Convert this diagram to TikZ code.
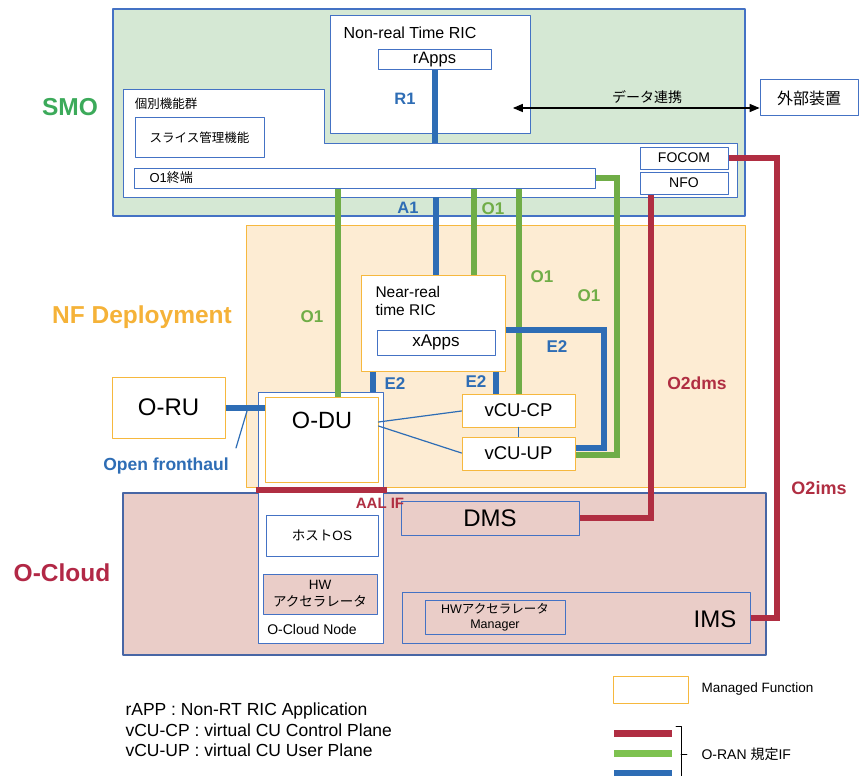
\documentclass[tikz,border=0pt]{standalone}
\usepackage{fontspec}
\setmainfont{Liberation Sans}
\newfontfamily\jp{Noto Sans CJK JP}
\usepackage{xcolor}
\usepackage{tikz}
\usetikzlibrary{arrows}
\definecolor{cSmo}{RGB}{213,232,212}
\definecolor{cNf}{RGB}{253,236,211}
\definecolor{cCloud}{RGB}{234,205,200}
\definecolor{cBox}{RGB}{68,114,196}
\definecolor{cCloudBd}{RGB}{72,102,165}
\definecolor{cMf}{RGB}{246,184,62}
\definecolor{cRed}{RGB}{176,46,66}
\definecolor{cGreen}{RGB}{112,173,71}
\definecolor{cGreenKey}{RGB}{126,194,80}
\definecolor{cBlue}{RGB}{46,109,181}
\definecolor{cSmoTxt}{RGB}{60,170,90}
\definecolor{cNfTxt}{RGB}{245,178,56}
\definecolor{cCloudTxt}{RGB}{178,40,70}
\newcommand{\fs}[2]{\fontsize{#1}{#2}\selectfont}

\begin{document}
\begin{tikzpicture}[line cap=round,line join=round,>=triangle 45,x=1pt,y=-1pt,
	bluebox/.style={draw=cBox,fill=white,line width=1pt,inner sep=0pt},
	mfbox/.style={draw=cMf,fill=white,line width=1pt,inner sep=0pt},
	pinkbox/.style={draw=cBox,fill=cCloud,line width=1pt,inner sep=0pt},
	ifline/.style={line width=6pt,line cap=butt,line join=miter},
	redif/.style={ifline,draw=cRed},
	greenif/.style={ifline,draw=cGreen},
	blueif/.style={ifline,draw=cBlue},
	thinlink/.style={draw=cBlue,line width=1.2pt},
	iflbl/.style={font=\bfseries\fs{17}{20}},
	arealbl/.style={font=\bfseries\fs{24.5}{28}}]
	\useasboundingbox (0,0) rectangle (863,776);
	% areas
	\node[draw=cBox,fill=cSmo,line width=1.3pt,inner sep=0pt,minimum width=632,minimum height=207] (smo) at (429,112.5) {};
	\node[draw=cMf,fill=cNf,line width=1pt,inner sep=0pt,minimum width=499,minimum height=262] (nfd) at (495.5,356) {};
	\node[draw=cCloudBd,fill=cCloud,line width=1.3pt,inner sep=0pt,minimum width=643,minimum height=162] (ocloud) at (444.5,574) {};
	\node[arealbl,text=cSmoTxt] (smolbl) at (70,107) {SMO};
	\node[arealbl,text=cNfTxt] (nflbl) at (142,317) {NF Deployment};
	\node[arealbl,text=cCloudTxt] (cloudlbl) at (62,573) {O-Cloud};
	% SMO
	\node[bluebox,minimum width=200,minimum height=117] (nonrt) at (430,74.5) {};
	\node[font=\fs{16}{19}] (nonrtlbl) at (410,33) {Non-real Time RIC};
	\node[bluebox,minimum width=113,minimum height=20,font=\fs{16.5}{19}] (rapps) at (434.5,60) {rApps};
	\draw[draw=cBox,fill=white,line width=1pt] (123,90) -- (324,90) -- (324,143) -- (737,143) -- (737,197) -- (123,197) -- cycle;
	\coordinate (kbtop) at (436,143);
	\coordinate (kbbot) at (436,197);
	\node[font=\jp\fs{12.5}{15}] (kblbl) at (166,104) {個別機能群};
	\node[bluebox,minimum width=129,minimum height=39,font=\jp\fs{12.5}{15}] (slice) at (199.5,137.5) {スライス管理機能};
	\node[bluebox,minimum width=461,minimum height=20] (o1term) at (364.5,178) {};
	\node[anchor=west,font=\fs{13}{15}] (o1lbl) at (146,178) {O1{\jp 終端}};
	\node[bluebox,minimum width=88,minimum height=22,font=\fs{14}{16}] (focom) at (684,158) {FOCOM};
	\node[bluebox,minimum width=88,minimum height=22,font=\fs{14}{16}] (nfo) at (684,183) {NFO};
	\node[bluebox,minimum width=98,minimum height=36,font=\jp\fs{16}{19}] (gaibu) at (809,98) {外部装置};
	\coordinate (dlink) at (513,108);
	\draw[<->,line width=1.3pt] (dlink) -- (dlink -| gaibu.west);
	\node[font=\jp\fs{14}{16}] (dlinklbl) at (647,97) {データ連携};
	% NF Deployment
	\node[mfbox,minimum width=113,minimum height=61,font=\fs{24}{28}] (oru) at (168.5,407.5) {O-RU};
	\node[bluebox,minimum width=125,minimum height=251] (ocnode) at (320.5,517.5) {};
	\node[font=\fs{14}{16}] (ocnodelbl) at (312,629) {O-Cloud Node};
	\node[mfbox,minimum width=113,minimum height=85] (odu) at (321.5,439.5) {};
	\node[font=\fs{23.5}{27}] (odulbl) at (322,420) {O-DU};
	\node[bluebox,minimum width=112,minimum height=41,font=\fs{13.5}{16}] (hostos) at (322,535.5) {{\jp ホスト}OS};
	\node[pinkbox,minimum width=114,minimum height=40,align=center,font=\fs{13.5}{17}] (hwacc) at (320,594) {HW\\{\jp アクセラレータ}};
	\node[mfbox,minimum width=144,minimum height=96] (nearric) at (433,323) {};
	\node[anchor=west,align=left,font=\fs{15.5}{18.5}] (nearlbl) at (372,301) {Near-real\\time RIC};
	\node[bluebox,minimum width=118,minimum height=25,font=\fs{17}{20}] (xapps) at (436,342.5) {xApps};
	\node[mfbox,minimum width=113,minimum height=33,font=\fs{18.5}{21}] (vcucp) at (518.5,410.5) {vCU-CP};
	\node[mfbox,minimum width=113,minimum height=33,font=\fs{18.5}{21}] (vcuup) at (518.5,453.5) {vCU-UP};
	% O-Cloud
	\node[pinkbox,minimum width=178,minimum height=34,font=\fs{24}{28}] (dms) at (490,518) {DMS};
	\node[pinkbox,minimum width=348,minimum height=51] (ims) at (576,617.5) {};
	\node[font=\fs{24}{28}] (imslbl) at (715,619) {IMS};
	\node[pinkbox,minimum width=140,minimum height=34,align=center,font=\fs{12.5}{15}] (hwmgr) at (495,617) {HW{\jp アクセラレータ}\\Manager};
	% O1
	\draw[greenif] (338,0 |- o1term.south) -- (338,0 |- odu.north);
	\draw[greenif] (474,0 |- o1term.south) -- (474,0 |- nearric.north);
	\draw[greenif] (o1term.south -| vcucp.north) -- (vcucp.north);
	\coordinate (o1bend) at (617,455);
	\draw[greenif] (o1term.east) -| (o1bend) -- (o1bend -| vcuup.east);
	% R1, A1, E2, fronthaul
	\draw[blueif] (rapps.south) -- (rapps.south |- kbtop);
	\draw[blueif] (kbbot) -- (kbbot |- nearric.north);
	\draw[blueif] (373,0 |- nearric.south) -- (373,0 |- ocnode.north);
	\draw[blueif] (496,0 |- nearric.south) -- (496,0 |- vcucp.north);
	\coordinate (e2bend) at (604,448);
	\draw[blueif] (nearric.east |- 0,330) -| (e2bend) -- (e2bend -| vcuup.east);
	\draw[blueif] (oru.east |- 0,408) -- (odu.west |- 0,408);
	% O2, AAL
	\draw[redif] (651,0 |- nfo.south) |- (dms.east);
	\coordinate (o2bend) at (777,0 |- ims.east);
	\draw[redif] (focom.east) -| (o2bend) -- (ims.east);
	\coordinate (aalw) at (256,490);
	\coordinate (aale) at (387,490);
	\draw[redif] (aalw) -- (aale);
	% thin links
	\draw[thinlink] (odu.east |- 0,422) -- (vcucp.west |- 0,411);
	\draw[thinlink] (odu.east |- 0,426) -- (vcuup.west |- 0,453);
	\draw[thinlink] (vcucp.south) -- (vcuup.north);
	\coordinate (ofhtip) at (247,411);
	\coordinate (ofhfoot) at (236,448);
	\draw[thinlink] (ofhtip) -- (ofhfoot);
	% interface labels
	\node[iflbl,font=\bfseries\fs{16.5}{20},text=cBlue] (r1lbl) at (405,99) {R1};
	\node[iflbl,font=\bfseries\fs{16.5}{20},text=cBlue] (a1lbl) at (408,208) {A1};
	\node[iflbl,text=cGreen] (o1lbla) at (493,209) {O1};
	\node[iflbl,text=cGreen] (o1lblb) at (312,317) {O1};
	\node[iflbl,text=cGreen] (o1lblc) at (542,277) {O1};
	\node[iflbl,text=cGreen] (o1lbld) at (589,296) {O1};
	\node[iflbl,text=cBlue] (e2lbla) at (557,347) {E2};
	\node[iflbl,text=cBlue] (e2lblb) at (476,382) {E2};
	\node[iflbl,text=cBlue] (e2lblc) at (395,384) {E2};
	\node[iflbl,font=\bfseries\fs{17.5}{20},text=cRed] (o2dmslbl) at (697,383) {O2dms};
	\node[iflbl,font=\bfseries\fs{18}{20},text=cRed] (o2imslbl) at (819,488) {O2ims};
	\node[iflbl,font=\bfseries\fs{15}{18},text=cRed] (aallbl) at (380,503) {AAL IF};
	\node[iflbl,font=\bfseries\fs{17.5}{20},text=cBlue] (ofhlbl) at (166,466) {Open fronthaul};
	% notes and legend
	\node[anchor=west,align=left,font=\fs{17.5}{20.5}] (notes) at (122,730) {rAPP : Non-RT RIC Application\\vCU-CP : virtual CU Control Plane\\vCU-UP : virtual CU User Plane};
	\node[mfbox,minimum width=75,minimum height=27] (mfkey) at (650.5,689.5) {};
	\node[anchor=west,font=\fs{13.5}{16}] (mftxt) at (698,689) {Managed Function};
	\draw[redif,line width=7pt] (614,733) -- (672,733);
	\draw[ifline,draw=cGreenKey,line width=7pt] (614,753) -- (672,753);
	\draw[blueif,line width=7pt] (614,773) -- (672,773);
	\draw[line width=0.8pt] (676,726) -- (681,726) -- (681,776);
	\draw[line width=0.8pt] (681,754) -- (687,754);
	\node[anchor=west,font=\fs{14}{16}] (keytxt) at (698,754) {O-RAN {\jp 規定}IF};
\end{tikzpicture}
\end{document}
